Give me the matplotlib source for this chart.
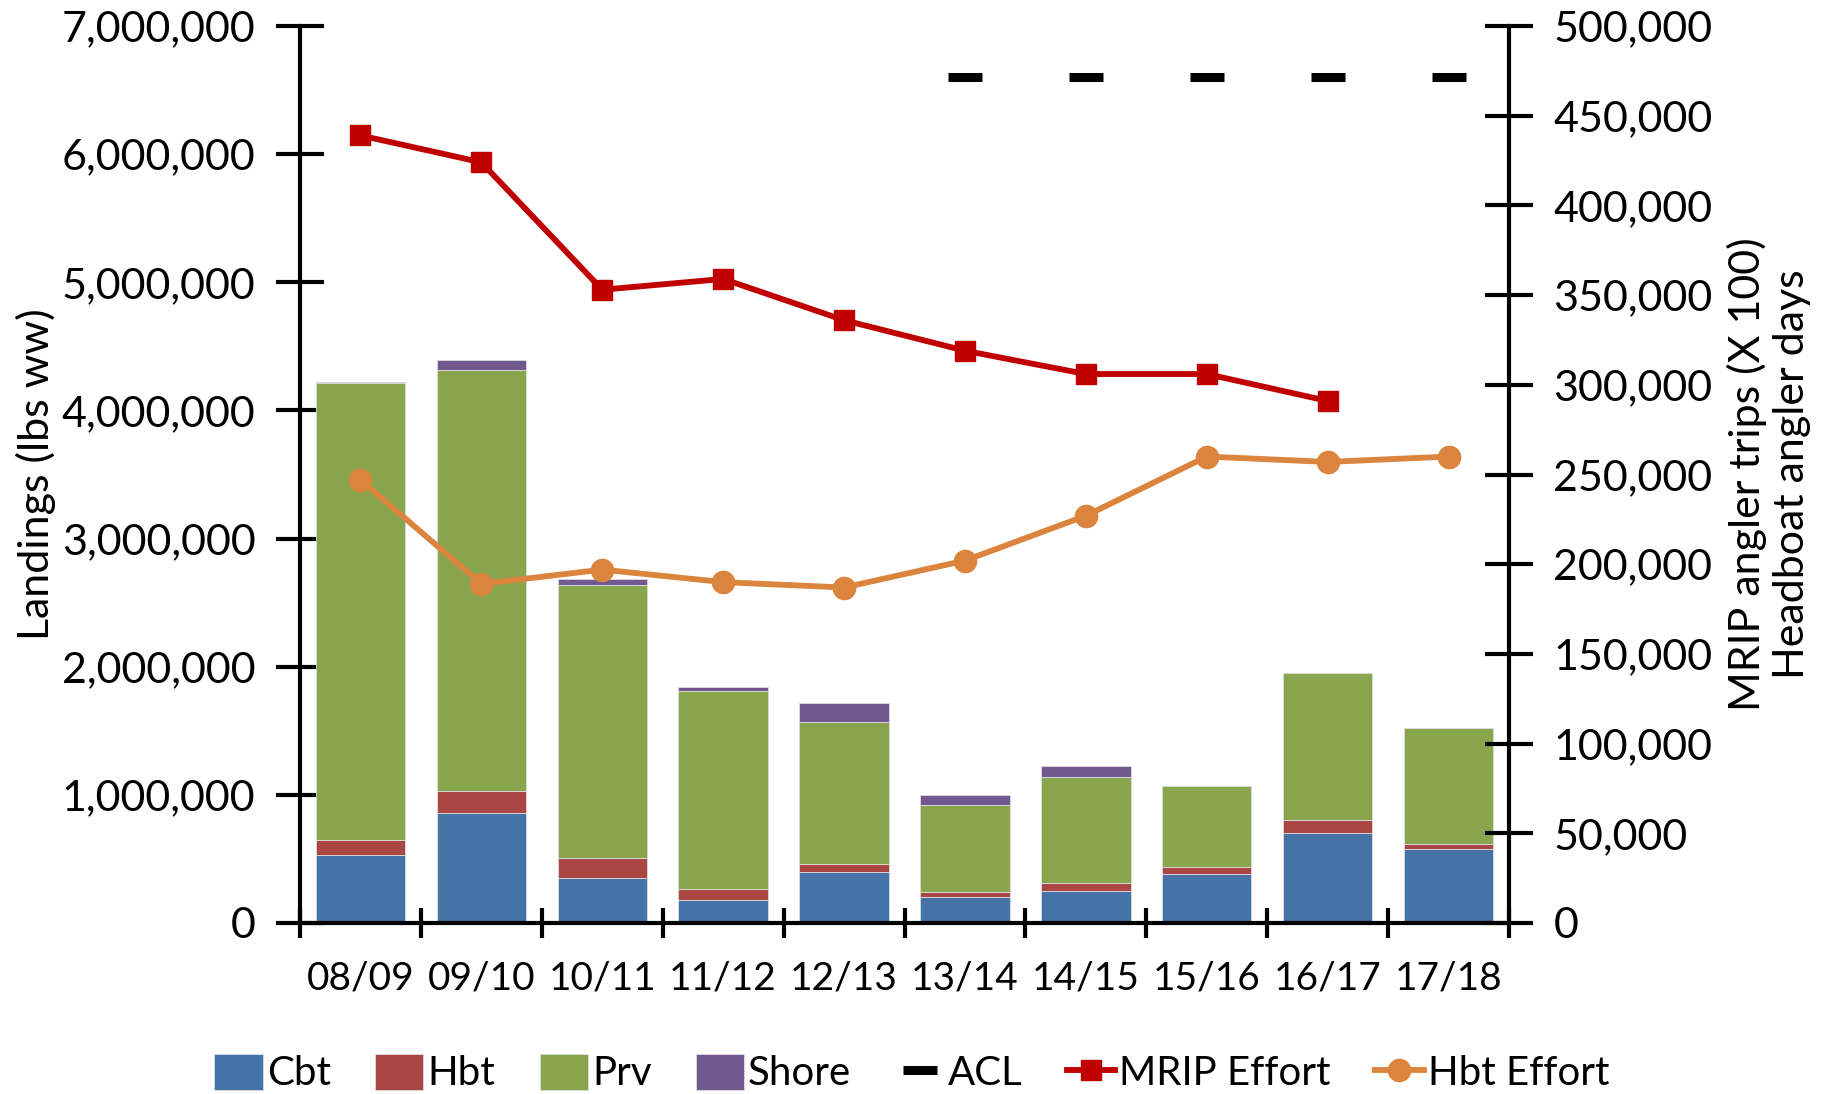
import matplotlib.pyplot as plt
import numpy as np
from matplotlib.ticker import FuncFormatter, MultipleLocator

plt.rcParams['font.family'] = ['Lato', 'DejaVu Sans']

seasons = ["08/09", "09/10", "10/11", "11/12", "12/13", "13/14", "14/15", "15/16", "16/17", "17/18"]
cbt = [527000, 858000, 355000, 176000, 400000, 204000, 251000, 379000, 702000, 574000]
hbt = [123000, 174000, 154000, 90000, 62000, 41000, 62000, 57000, 102000, 42000]
prv = [3564000, 3286000, 2127000, 1546000, 1105000, 677000, 823000, 632000, 1144000, 906000]
shore = [11000, 72000, 52000, 32000, 150000, 78000, 89000, 3000, 0, 0]
acl = [np.nan, np.nan, np.nan, np.nan, np.nan, 6600000, 6600000, 6600000, 6600000, 6600000]
mrip_effort = [439000, 424000, 353000, 359000, 336000, 319000, 306000, 306000, 291000, np.nan]
hbt_effort = [247000, 189000, 197000, 190000, 187000, 202000, 227000, 260000, 257000, 260000]

c_cbt, c_hbt, c_prv, c_shore = "#4572A7", "#AA4643", "#89A54E", "#71588F"
c_mrip, c_heff = "#C00000", "#DB843D"

fig = plt.figure(figsize=(18.42, 10.94), dpi=100)
ax = fig.add_axes([300 / 1842, 1 - 923 / 1094, 1209 / 1842, 897 / 1094])
ax2 = ax.twinx()

x = np.arange(len(seasons))
w = 0.74
b = np.zeros(len(x))
for vals, col, lab in [(cbt, c_cbt, "Cbt"), (hbt, c_hbt, "Hbt"), (prv, c_prv, "Prv"), (shore, c_shore, "Shore")]:
    ax.bar(x, vals, w, bottom=b, color=col, label=lab, edgecolor="#dddddd", linewidth=0.6, zorder=2)
    b += np.array(vals)

ax.plot(x, acl, linestyle="none", marker="_", markersize=25, markeredgewidth=6.5, color="black", label="ACL", zorder=3)

ax2.plot(x, mrip_effort, color=c_mrip, lw=4.2, marker="s", markersize=14, label="MRIP Effort", zorder=3)
ax2.plot(x, hbt_effort, color=c_heff, lw=4.2, marker="o", markersize=16, label="Hbt Effort", zorder=3)

ax.set_xlim(-0.5, len(x) - 0.5)
ax.set_ylim(0, 7000000)
ax2.set_ylim(0, 500000)
ax.yaxis.set_major_locator(MultipleLocator(1000000))
ax2.yaxis.set_major_locator(MultipleLocator(50000))
fmt = FuncFormatter(lambda v, p: f"{int(v):,}")
ax.yaxis.set_major_formatter(fmt)
ax2.yaxis.set_major_formatter(fmt)

ax.set_xticks(np.arange(-0.5, len(x)), labels=[""] * (len(x) + 1))
ax.set_xticks(x, labels=seasons, minor=True)
ax.tick_params(axis="x", which="major", direction="inout", length=22, width=3)
ax.tick_params(axis="x", which="minor", length=0, pad=27, labelsize=28)
ax.tick_params(axis="y", direction="inout", length=34, width=3, labelsize=31, pad=15)
ax2.tick_params(axis="y", direction="inout", length=34, width=3, labelsize=31, pad=15)

for a in (ax, ax2):
    a.spines["top"].set_visible(False)
    for s in ("left", "right", "bottom"):
        a.spines[s].set_linewidth(3)
ax2.spines["left"].set_visible(False)
ax2.spines["bottom"].set_visible(False)
ax.spines["right"].set_visible(False)

ax.set_ylabel("Landings (lbs ww)", fontsize=31, labelpad=4)
ax2.set_ylabel("MRIP angler trips (X 100)\nHeadboat angler days", fontsize=31, labelpad=10)

h1, l1 = ax.get_legend_handles_labels()
h2, l2 = ax2.get_legend_handles_labels()
order = [1, 2, 3, 4, 0]
handles = [h1[i] for i in order] + h2
labels = [l1[i] for i in order] + l2
fig.legend(handles, labels, loc="center", bbox_to_anchor=(0.495, 1 - 1073 / 1094), ncol=7,
           frameon=False, fontsize=29, handlelength=1.2, handleheight=1.0,
           handletextpad=0.1, columnspacing=1.1)

fig.savefig("out.png", dpi=100)
